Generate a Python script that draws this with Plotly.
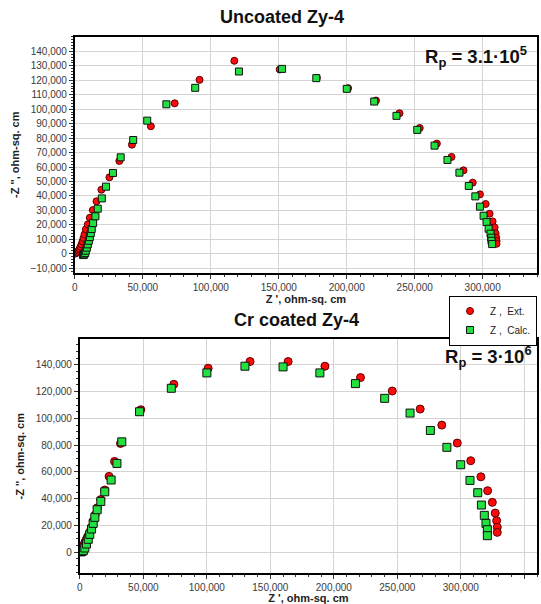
import plotly.graph_objects as go

W, H = 541, 604

# ---------------- Uncoated Zy-4 ----------------
top_ext_x = [500, 1200, 2000, 2800, 3400, 4150, 4900, 5600, 6340, 7100, 8050, 9500, 11000, 13200, 15900,
             19500, 25400, 32700, 41950, 55900, 73400, 91700, 117300, 150700, 178000, 201000, 221500,
             238800, 253700, 266300, 277100, 285900, 292700, 298000, 302200, 305100, 307300, 308800,
             309500, 310000, 310200, 310200]
top_ext_y = [200, 700, 1300, 2100, 3300, 4850, 6470, 8540, 10850, 13400, 16900, 20300, 24900, 30200, 36300,
             44300, 52900, 64200, 75500, 88200, 104100, 120300, 133500, 127500, 121700, 114500, 106000,
             97200, 87000, 76200, 67000, 57700, 49200, 41100, 34400, 27700, 22400, 18200,
             14100, 11100, 8800, 6900]

top_calc_x = [6000, 6500, 6800, 7560, 8050, 8800, 9500, 10240, 11000, 11700, 12400, 13400, 15100, 16800,
              19800, 22900, 28000, 33700, 42900, 53200, 67300, 88500, 120700, 152400, 177600, 200000,
              220200, 236600, 251900, 264600, 274100, 282900, 289800, 294600, 298000, 300700, 302900,
              304400, 305800, 306300, 306500, 307000]
top_calc_y = [-900, -700, -460, 460, 2100, 4200, 6500, 9000, 11500, 14300, 17100, 21200, 25900, 31200,
              38300, 46400, 55900, 66700, 78700, 92100, 103400, 114800, 126100, 127900, 121500, 114100,
              105300, 95400, 85700, 74800, 64900, 56100, 46900, 39700, 32600, 26300, 21900,
              17300, 13900, 11100, 9000, 6700]

# ---------------- Cr coated Zy-4 ----------------
bot_ext_x = [500, 1000, 1500, 2200, 3000, 4000, 5000, 6000, 7200, 8500, 9800, 10500, 12000, 13800, 16500,
             19600, 23000, 27300, 32000, 48000, 74000, 101000, 134000, 164000, 193000, 221000, 246000,
             268000, 285000, 297200, 307800, 315800, 321100, 324800, 327100, 328200, 328700, 328700]
bot_ext_y = [500, 1500, 2500, 3800, 5500, 7500, 9500, 11500, 13800, 16500, 19500, 23400, 27800, 33300, 39400,
             46500, 56700, 67900, 81300, 106500, 125500, 137500, 142500, 142500, 139000, 130500, 120500,
             107000, 95000, 81600, 68400, 56400, 46000, 37300, 29300, 23600, 18700, 14900]

bot_calc_x = [800, 1500, 2700, 3900, 5200, 6600, 7800, 9200, 10500, 11800, 13600, 16500, 19600, 24600,
              29200, 33000, 47000, 72000, 100000, 130000, 160000, 189000, 217000, 240000, 260000, 276000,
              289000, 299900, 307200, 313300, 316200, 318500, 319800, 320900, 320900]
bot_calc_y = [300, 600, 1200, 3200, 6200, 9700, 13400, 17400, 21600, 26100, 31800, 38000, 45200, 54000,
              66400, 82500, 105000, 122500, 134000, 139000, 138500, 134000, 126000, 115000, 104000, 91000,
              78400, 65400, 53700, 44500, 35300, 27600, 21600, 16900, 12400]

top_x_ticks = [0, 50000, 100000, 150000, 200000, 250000, 300000]
top_y_ticks = [-10000, 0, 10000, 20000, 30000, 40000, 50000, 60000, 70000, 80000, 90000, 100000,
               110000, 120000, 130000, 140000]
bot_x_ticks = [0, 50000, 100000, 150000, 200000, 250000, 300000, 350000]
bot_y_ticks = [0, 20000, 40000, 60000, 80000, 100000, 120000, 140000]

RED = "#ff0a0a"
RED_LINE = "#5a0000"
GREEN = "#22e040"
GREEN_LINE = "#101010"

fig = go.Figure()

ext_marker = dict(symbol="circle", size=7, color=RED, line=dict(color=RED_LINE, width=1))
calc_marker = dict(symbol="square", size=7, color=GREEN, line=dict(color=GREEN_LINE, width=1))

fig.add_trace(go.Scatter(x=top_ext_x, y=top_ext_y, mode="markers", marker=ext_marker,
                         name="Z ,  Ext.", xaxis="x", yaxis="y", showlegend=True))
fig.add_trace(go.Scatter(x=top_calc_x, y=top_calc_y, mode="markers", marker=calc_marker,
                         name="Z ,  Calc.", xaxis="x", yaxis="y", showlegend=True))
fig.add_trace(go.Scatter(x=bot_ext_x, y=bot_ext_y, mode="markers", marker=dict(ext_marker, size=8),
                         name="Z ,  Ext.", xaxis="x2", yaxis="y2", showlegend=False))
fig.add_trace(go.Scatter(x=bot_calc_x, y=bot_calc_y, mode="markers", marker=dict(calc_marker, size=8),
                         name="Z ,  Calc.", xaxis="x2", yaxis="y2", showlegend=False))

tickfont = dict(family="Liberation Sans, Arial, sans-serif", size=10, color="#3a3a3a")
titlefont = dict(family="Liberation Sans, Arial, sans-serif", size=11, color="#222")

def axis(domain, rng, tickvals, minor_dtick, anchor, title, standoff):
    return dict(
        domain=domain, range=rng, anchor=anchor,
        tickvals=tickvals, tickformat=",d",
        showgrid=True, gridcolor="#d4d4d4", gridwidth=1,
        zeroline=False,
        showline=True, linecolor="black", linewidth=2, mirror=True,
        ticks="outside", ticklen=4, tickwidth=1, tickcolor="#333",
        minor=dict(dtick=minor_dtick, ticks="outside", ticklen=2, tickcolor="#333", showgrid=False),
        tickfont=tickfont,
        title=dict(text=title, font=titlefont, standoff=standoff),
    )

xd_top = [72.3 / W, 537 / W]
yd_top = [1 - 273 / H, 1 - 37 / H]
xd_bot = [77.3 / W, 537 / W]
yd_bot = [1 - 574 / H, 1 - 340 / H]

fig.update_layout(
    width=W, height=H,
    margin=dict(l=0, r=0, t=0, b=0),
    paper_bgcolor="white", plot_bgcolor="white",
    font=dict(family="Liberation Sans, Arial, sans-serif"),
    xaxis=axis(xd_top, [0, 340000], top_x_ticks, 10000, "y", "<b>Z ', ohm-sq. cm</b>", 3),
    yaxis=axis(yd_top, [-13000, 150000], top_y_ticks, 2000, "x", "<b>-Z '', ohm-sq. cm</b>", 9),
    xaxis2=axis(xd_bot, [0, 360000], bot_x_ticks, 10000, "y2", "<b>Z ', ohm-sq. cm</b>", 3),
    yaxis2=axis(yd_bot, [-15500, 159000], bot_y_ticks, 5000, "x2", "<b>-Z '', ohm-sq. cm</b>", 9),
    legend=dict(x=537 / W, y=1 - 296 / H, xanchor="right", yanchor="top",
                bordercolor="black", borderwidth=1, bgcolor="white",
                font=dict(family="Liberation Sans, Arial, sans-serif", size=10, color="#222"),
                itemwidth=30, tracegroupgap=0),
    showlegend=True,
    annotations=[
        dict(text="<b>Uncoated Zy-4</b>", x=281 / W, y=1 - 17.5 / H, xref="paper", yref="paper",
             xanchor="center", yanchor="middle", showarrow=False, font=dict(size=18, color="#111")),
        dict(text="<b>Cr coated Zy-4</b>", x=295 / W, y=1 - 321 / H, xref="paper", yref="paper",
             xanchor="center", yanchor="middle", showarrow=False, font=dict(size=18, color="#111")),
        dict(text="<b>R<sub>p</sub> = 3.1·10<sup>5</sup></b>", x=529 / W, y=1 - 57 / H,
             xref="paper", yref="paper", xanchor="right", yanchor="middle", showarrow=False,
             font=dict(size=18.5, color="#111")),
        dict(text="<b>R<sub>p</sub> = 3·10<sup>6</sup></b>", x=534 / W, y=1 - 357 / H,
             xref="paper", yref="paper", xanchor="right", yanchor="middle", showarrow=False,
             font=dict(size=18.5, color="#111")),
    ],
)

fig.write_html("out.html", config={"displayModeBar": False},
               post_script="document.body.style.margin='0px';document.body.style.overflow='hidden';")
